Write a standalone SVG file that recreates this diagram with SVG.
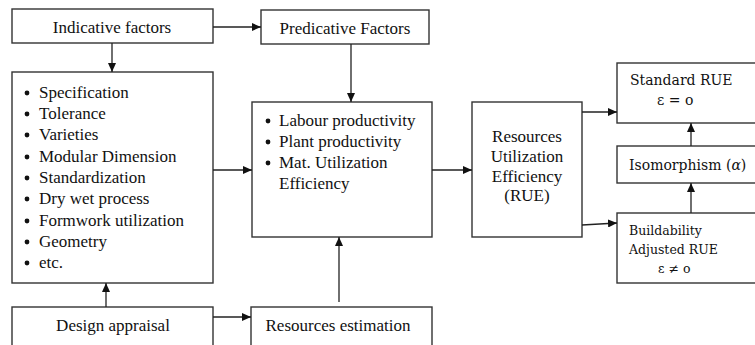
<svg xmlns="http://www.w3.org/2000/svg" width="755" height="345" viewBox="0 0 755 345">
<defs>
<marker id="ah" markerWidth="10" markerHeight="8" refX="9" refY="4" orient="auto" markerUnits="userSpaceOnUse">
<path d="M0,0 L9,4 L0,8 Z" fill="#111"/>
</marker>
</defs>
<style>
.box{fill:#fff;stroke:#333;stroke-width:1.4}
.ln{stroke:#222;stroke-width:1.3;fill:none;marker-end:url(#ah)}
.b{fill:#111}
</style>
<rect width="755" height="345" fill="#fff"/>
<g id="indicative">
<rect class="box" x="12" y="9" width="201" height="34"/>
<text x="112" y="33" text-anchor="middle" fill="#111" style="font-family:'Liberation Serif',serif;font-size:17px">Indicative factors</text>
</g>
<g id="predicative">
<rect class="box" x="261" y="10" width="168" height="34"/>
<text x="345" y="34" text-anchor="middle" fill="#111" style="font-family:'Liberation Serif',serif;font-size:17px">Predicative Factors</text>
</g>
<g id="factors-list">
<rect class="box" x="12" y="72" width="201" height="211"/>
<circle class="b" cx="27" cy="93" r="2.4"/><text x="39" y="98" fill="#111" style="font-family:'Liberation Serif',serif;font-size:17px">Specification</text>
<circle class="b" cx="27" cy="114" r="2.4"/><text x="39" y="119" fill="#111" style="font-family:'Liberation Serif',serif;font-size:17px">Tolerance</text>
<circle class="b" cx="27" cy="135" r="2.4"/><text x="39" y="140" fill="#111" style="font-family:'Liberation Serif',serif;font-size:17px">Varieties</text>
<circle class="b" cx="27" cy="157" r="2.4"/><text x="39" y="162" fill="#111" style="font-family:'Liberation Serif',serif;font-size:17px">Modular Dimension</text>
<circle class="b" cx="27" cy="178" r="2.4"/><text x="39" y="183" fill="#111" style="font-family:'Liberation Serif',serif;font-size:17px">Standardization</text>
<circle class="b" cx="27" cy="199" r="2.4"/><text x="39" y="204" fill="#111" style="font-family:'Liberation Serif',serif;font-size:17px">Dry wet process</text>
<circle class="b" cx="27" cy="221" r="2.4"/><text x="39" y="226" fill="#111" style="font-family:'Liberation Serif',serif;font-size:17px">Formwork utilization</text>
<circle class="b" cx="27" cy="242" r="2.4"/><text x="39" y="247" fill="#111" style="font-family:'Liberation Serif',serif;font-size:17px">Geometry</text>
<circle class="b" cx="27" cy="263" r="2.4"/><text x="39" y="268" fill="#111" style="font-family:'Liberation Serif',serif;font-size:17px">etc.</text>
</g>
<g id="productivity">
<rect class="box" x="252" y="102" width="180" height="135"/>
<circle class="b" cx="268" cy="121" r="2.4"/><text x="279" y="126" fill="#111" style="font-family:'Liberation Serif',serif;font-size:17px">Labour productivity</text>
<circle class="b" cx="268" cy="142" r="2.4"/><text x="279" y="147" fill="#111" style="font-family:'Liberation Serif',serif;font-size:17px">Plant productivity</text>
<circle class="b" cx="268" cy="163" r="2.4"/><text x="279" y="168" fill="#111" style="font-family:'Liberation Serif',serif;font-size:17px">Mat. Utilization</text>
<text x="279" y="189" fill="#111" style="font-family:'Liberation Serif',serif;font-size:17px">Efficiency</text>
</g>
<g id="rue">
<rect class="box" x="472" y="102" width="110" height="135"/>
<text x="527" y="142" text-anchor="middle" fill="#111" style="font-family:'Liberation Serif',serif;font-size:17px">Resources</text>
<text x="527" y="162" text-anchor="middle" fill="#111" style="font-family:'Liberation Serif',serif;font-size:17px">Utilization</text>
<text x="527" y="182" text-anchor="middle" fill="#111" style="font-family:'Liberation Serif',serif;font-size:17px">Efficiency</text>
<text x="527" y="201" text-anchor="middle" fill="#111" style="font-family:'Liberation Serif',serif;font-size:17px">(RUE)</text>
</g>
<g id="standard-rue">
<rect class="box" x="617" y="63" width="145" height="60"/>
<text x="630" y="85" fill="#111" style="font-family:'DejaVu Serif',serif;font-size:14px">Standard RUE</text>
<text x="657" y="105" fill="#111" style="font-family:'DejaVu Serif',serif;font-size:14px">&#949; = o</text>
</g>
<g id="isomorphism">
<rect class="box" x="617" y="146" width="145" height="37"/>
<text x="629" y="170" fill="#111" style="font-family:'DejaVu Serif',serif;font-size:14px">Isomorphism (<tspan font-style="italic">&#945;</tspan>)</text>
</g>
<g id="buildability">
<rect class="box" x="617" y="213" width="145" height="70"/>
<text x="629" y="235" fill="#111" style="font-family:'DejaVu Serif',serif;font-size:12.5px">Buildability</text>
<text x="629" y="254" fill="#111" style="font-family:'DejaVu Serif',serif;font-size:12.5px">Adjusted RUE</text>
<text x="658" y="273" fill="#111" style="font-family:'DejaVu Serif',serif;font-size:12.5px">&#949;  &#8800; o</text>
</g>
<g id="design">
<rect class="box" x="12" y="307" width="201" height="50"/>
<text x="113" y="331" text-anchor="middle" fill="#111" style="font-family:'Liberation Serif',serif;font-size:17px">Design appraisal</text>
</g>
<g id="estimation">
<rect class="box" x="251" y="307" width="181" height="50"/>
<text x="338" y="331" text-anchor="middle" fill="#111" style="font-family:'Liberation Serif',serif;font-size:17px">Resources estimation</text>
</g>
<g id="connectors">
<line class="ln" x1="213" y1="27" x2="261" y2="27"/>
<line class="ln" x1="112" y1="43" x2="112" y2="72"/>
<line class="ln" x1="351" y1="44" x2="351" y2="102"/>
<line class="ln" x1="213" y1="170" x2="252" y2="170"/>
<line class="ln" x1="106" y1="307" x2="106" y2="283"/>
<line class="ln" x1="213" y1="317" x2="251" y2="317"/>
<line class="ln" x1="339" y1="302" x2="339" y2="237"/>
<line class="ln" x1="432" y1="170" x2="472" y2="170"/>
<line class="ln" x1="582" y1="112" x2="617" y2="112"/>
<line class="ln" x1="582" y1="225" x2="617" y2="223"/>
<line class="ln" x1="691" y1="146" x2="691" y2="123"/>
<line class="ln" x1="691" y1="213" x2="691" y2="183"/>
</g>
</svg>
